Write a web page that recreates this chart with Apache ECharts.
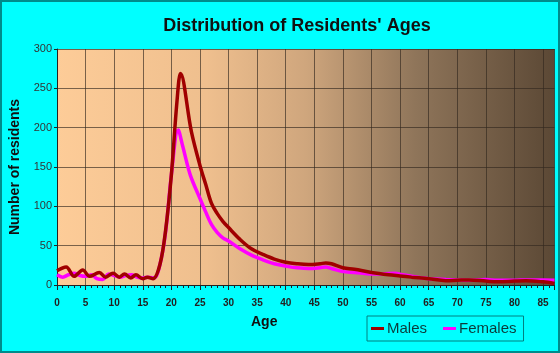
<!DOCTYPE html>
<html>
<head>
<meta charset="utf-8">
<title>Distribution of Residents' Ages</title>
<script src="https://cdn.jsdelivr.net/npm/echarts@6/dist/echarts.min.js"></script>
<style>
  html, body { margin: 0; padding: 0; background: #00ffff; }
  #chart { width: 560px; height: 353px; }
</style>
</head>
<body>
<div id="chart"></div>
<script>
// ages (x) and counts (y)
const maleAges = [0, 1.6, 3, 4.5, 5.7, 7.4, 8.5, 9.8, 10.9, 11.8, 12.9, 13.8, 15, 15.8, 16.8, 18, 19, 20, 21, 21.6, 23.5, 25, 26, 27, 28, 29, 30, 32, 34, 36, 38, 40, 42, 44, 46, 47, 48, 50, 52, 55, 58, 60, 62, 65, 68, 70, 72, 75, 77, 80, 82, 85, 87];
const maleCounts = [18, 23, 11, 19, 11, 16, 10, 15, 10, 14, 9, 13, 8, 10, 8, 26, 70, 140, 235, 269, 195, 152, 128, 104, 91, 81, 73, 58, 46, 39, 33, 29, 27, 26, 27, 28, 27, 22, 20, 16, 13, 11.5, 10, 8, 5.5, 6, 6.5, 5, 4, 5, 5.5, 4, 2];

const femaleAges = [0, 1, 2, 3, 4, 5, 6, 7, 8, 9, 10, 11, 12, 13, 14, 15, 16, 17, 18, 19, 20, 21.2, 22, 23.3, 25, 26, 27, 28, 29, 30, 32, 34, 36, 38, 40, 42, 44, 46, 47, 48, 50, 52, 55, 57, 59, 60.5, 62, 65, 68, 70, 72, 75, 77, 80, 82, 85, 87];
const femaleCounts = [13, 10, 13, 15, 12, 11, 13, 8, 7, 14, 12, 10, 12, 13, 10, 9, 10, 9, 26, 68, 140, 197, 176, 140, 110, 93, 77, 67, 60, 56, 46, 38, 32, 27, 24, 22, 21, 22, 23, 21, 17, 16, 14, 14, 15, 13, 11, 8, 7, 6.5, 6, 7, 6, 6, 6.5, 6.5, 6];

const yTicks = [0, 50, 100, 150, 200, 250, 300];

const zip = (xs, ys) => xs.map((x, i) => [x, ys[i]]);

const chart = echarts.init(document.getElementById('chart'));
chart.setOption({
    backgroundColor: '#00ffff',
    animation: false,
    title: {
        text: "Distribution of Residents' Ages",
        left: 292,
        top: 12,
        textAlign: 'center',
        textStyle: { fontFamily: 'Arial', fontSize: 18, fontWeight: 'bold', color: '#111' }
    },
    grid: {
        left: 54,
        right: 5.5,
        top: 49,
        bottom: 68,
        show: true,
        borderWidth: 0,
        backgroundColor: new echarts.graphic.LinearGradient(0, 0, 1, 0, [
            { offset: 0, color: '#fdcc98' },
            { offset: 0.3, color: '#efbf8e' },
            { offset: 0.5, color: '#cfa67d' },
            { offset: 0.72, color: '#8f755a' },
            { offset: 1, color: '#5b4835' }
        ])
    },
    legend: {
        left: 367,
        top: 316,
        padding: [5, 7, 5, 4],
        itemGap: 16,
        itemWidth: 13,
        itemHeight: 3,
        icon: 'rect',
        borderColor: '#008080',
        borderWidth: 1,
        textStyle: { fontFamily: 'Arial', fontSize: 15, color: '#0b3b3b', padding: [0, 0, 0, -2] },
        data: ['Males', 'Females']
    },
    xAxis: {
        type: 'value',
        min: 0,
        max: 87,
        interval: 5,
        axisLine: { show: true, lineStyle: { color: '#222', width: 1 } },
        axisTick: { show: true, length: 5, lineStyle: { color: '#222' } },
        minorTick: { show: true, splitNumber: 5, length: 3, lineStyle: { color: '#222' } },
        axisLabel: { fontFamily: 'Arial', fontSize: 10, fontWeight: 'bold', color: '#222', margin: 13, showMaxLabel: false },
        splitLine: { show: true, lineStyle: { color: 'rgba(50,40,30,0.65)', width: 1 } }
    },
    yAxis: {
        type: 'value',
        min: yTicks[0],
        max: yTicks[yTicks.length - 1],
        interval: 50,
        name: 'Number of residents',
        nameLocation: 'middle',
        nameGap: 35,
        nameTextStyle: { fontFamily: 'Arial', fontSize: 14, fontWeight: 'bold', color: '#111' },
        axisLine: { show: true, lineStyle: { color: '#222', width: 1 } },
        axisTick: { show: true, length: 3, lineStyle: { color: '#222' } },
        axisLabel: { fontFamily: 'Arial', fontSize: 11, color: '#333', margin: 5 },
        splitLine: { show: true, lineStyle: { color: 'rgba(50,40,30,0.65)', width: 1 } }
    },
    graphic: [
        {
            type: 'text',
            left: 266 - 15,
            top: 315,
            style: { text: 'Age', font: 'bold 14px Arial', fill: '#111' }
        },
        {
            type: 'rect',
            shape: { x: 1, y: 1, width: 558, height: 351 },
            style: { fill: null, stroke: '#008b8b', lineWidth: 2 },
            silent: true
        }
    ],
    series: [
        {
            name: 'Females',
            type: 'line',
            smooth: 0.35,
            showSymbol: false,
            data: zip(femaleAges, femaleCounts),
            lineStyle: { color: '#ff00ff', width: 3.5 },
            itemStyle: { color: '#ff00ff' }
        },
        {
            name: 'Males',
            type: 'line',
            smooth: 0.35,
            showSymbol: false,
            data: zip(maleAges, maleCounts),
            lineStyle: { color: '#a00000', width: 3.5 },
            itemStyle: { color: '#a00000' }
        }
    ]
});
</script>
</body>
</html>
